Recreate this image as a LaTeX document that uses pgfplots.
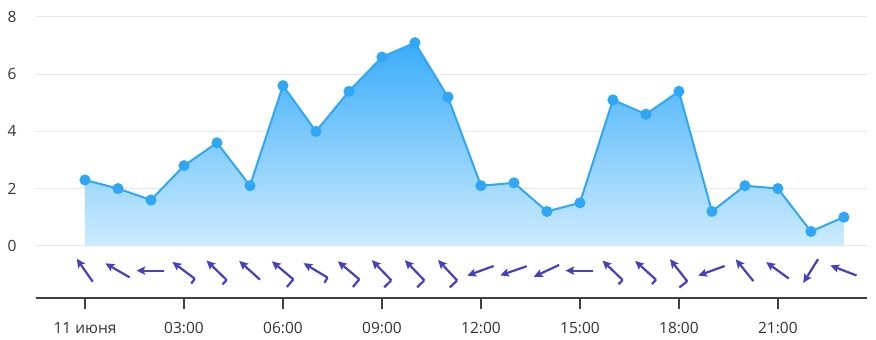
\documentclass[border=0pt]{standalone}
\usepackage{fontspec}
\setmainfont{Open Sans}
\usepackage{pgfplots}
\pgfplotsset{compat=1.18}
\usepackage{pgfplotstable}

\definecolor{linec}{RGB}{47,167,244}
\definecolor{topc}{RGB}{58,172,250}
\definecolor{midc}{RGB}{110,197,250}
\definecolor{botc}{RGB}{205,236,253}
\definecolor{windc}{RGB}{68,64,190}
\definecolor{gridc}{RGB}{230,230,230}
\definecolor{axc}{RGB}{64,64,64}
\definecolor{txtc}{RGB}{51,51,51}

\pgfplotstableread{
hour val
0 2.3
1 2.0
2 1.6
3 2.8
4 3.6
5 2.1
6 5.6
7 4.0
8 5.4
9 6.6
10 7.1
11 5.2
12 2.1
13 2.2
14 1.2
15 1.5
16 5.1
17 4.6
18 5.4
19 1.2
20 2.1
21 2.0
22 0.5
23 1.0
}\speed

% wind direction (degrees, arrow heading), no barb
\pgfplotstableread{
hour y dir
0 -0.87 125
1 -0.87 150
2 -0.87 180
5 -0.87 138
12 -0.87 200
13 -0.87 199
14 -0.87 205
15 -0.87 180
19 -0.87 200
20 -0.87 129
21 -0.87 144
22 -0.87 238
23 -0.87 159
}\windA
% short barb
\pgfplotstableread{
hour y dir
3 -0.87 143
4 -0.87 136
7 -0.87 149
16 -0.87 136
17 -0.87 138
}\windB
% long barb
\pgfplotstableread{
hour y dir
6 -0.87 140
8 -0.87 140
9 -0.87 134
10 -0.87 134
11 -0.87 133
18 -0.87 128
}\windC

\newcommand\windshaft{%
  \pgftransformrotate{\pgfplotspointmeta}%
  \pgfpathmoveto{\pgfqpoint{-13.5pt}{0pt}}%
  \pgfpathlineto{\pgfqpoint{9pt}{0pt}}}
\newcommand\windhead{%
  \pgfpathmoveto{\pgfqpoint{14.5pt}{0pt}}%
  \pgfpathlineto{\pgfqpoint{5.5pt}{4.3pt}}%
  \pgfpathlineto{\pgfqpoint{7.5pt}{0pt}}%
  \pgfpathlineto{\pgfqpoint{5.5pt}{-4.3pt}}%
  \pgfpathclose
  \pgfusepathqfill}
\pgfdeclareplotmark{windA}{\windshaft\pgfusepathqstroke\windhead}
\pgfdeclareplotmark{windB}{\windshaft
  \pgfpathmoveto{\pgfqpoint{-13.5pt}{0pt}}\pgfpathlineto{\pgfqpoint{-13.5pt}{6pt}}%
  \pgfusepathqstroke\windhead}
\pgfdeclareplotmark{windC}{\windshaft
  \pgfpathmoveto{\pgfqpoint{-13.5pt}{0pt}}\pgfpathlineto{\pgfqpoint{-13.5pt}{10pt}}%
  \pgfusepathqstroke\windhead}

\pgfplotsset{windstyle/.style={scatter, only marks, color=windc, line width=2.2pt,
  mark options={draw=windc, fill=windc},
  point meta=explicit symbolic,
  scatter/@pre marker code/.code={\scope\pgfkeys{/pgf/fpu=false}},
  scatter/@post marker code/.code={\endscope}}}

\begin{document}
\begin{tikzpicture}
\begin{axis}[
  name=ax,
  scale only axis,
  width=831pt, height=281pt,
  xmin=-1.485, xmax=23.7,
  ymin=-1.827, ymax=8,
  clip=false,
  axis lines*=left,
  y axis line style={draw=none},
  x axis line style={draw=axc, line width=1.4pt},
  ytick={0,2,4,6,8},
  ytick style={draw=none},
  ymajorgrids,
  grid style={draw=gridc, line width=1pt},
  xtick={0,3,6,9,12,15,18,21},
  xticklabels={11 июня,03:00,06:00,09:00,12:00,15:00,18:00,21:00},
  xtick align=outside,
  xtick style={draw=axc, line width=1.4pt},
  major tick length=11pt,
  tick label style={font=\fontsize{15.5}{18}\selectfont, text=txtc},
  /pgf/number format/assume math mode=true,
  yticklabel style={anchor=east, xshift=-16pt},
  xticklabel style={anchor=base, yshift=-24pt},
]
\addplot[draw=none, top color=topc, middle color=midc, bottom color=botc] table[x=hour, y=val] {\speed} \closedcycle;
\addplot[color=linec, line width=2pt, mark=*, mark size=4.5pt, mark options={fill=linec, draw=linec}] table[x=hour, y=val] {\speed};
\addplot[windstyle, mark=windA] table[x=hour, y=y, meta=dir] {\windA};
\addplot[windstyle, mark=windB] table[x=hour, y=y, meta=dir] {\windB};
\addplot[windstyle, mark=windC] table[x=hour, y=y, meta=dir] {\windC};
\end{axis}
\pgfresetboundingbox
\path[use as bounding box] ([shift={(-36pt,-42pt)}]ax.south west) rectangle ([shift={(9pt,17pt)}]ax.north east);
\end{tikzpicture}
\end{document}
